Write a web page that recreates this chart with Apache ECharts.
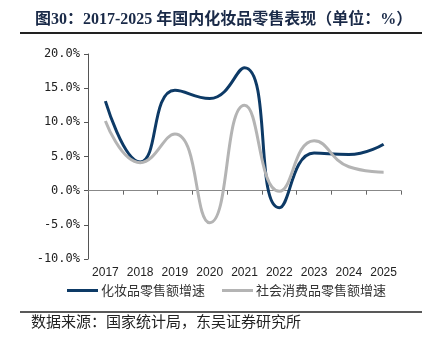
<!DOCTYPE html>
<html><head><meta charset="utf-8">
<script src="https://cdn.jsdelivr.net/npm/echarts@6/dist/echarts.min.js"></script>
<style>html,body{margin:0;padding:0;background:#fff}#c{width:433px;height:340px}</style>
</head><body><div id="c"></div>
<script>
const categories = ['2017','2018','2019','2020','2021','2022','2023','2024','2025'];
const cosmetics = [13.1, 4.2, 14.7, 13.5, 18.0, -2.5, 5.5, 5.3, 6.8];
const retail = [10.2, 4.1, 8.3, -4.7, 12.5, -0.1, 7.3, 3.5, 2.7];
const seriesNames = ['化妆品零售额增速', '社会消费品零售额增速'];
const titleText = '图30：2017-2025 年国内化妆品零售表现（单位：%）';
const sourceText = '数据来源：国家统计局，东吴证券研究所';

const chart = echarts.init(document.getElementById('c'));
chart.setOption({
  animation: false,
  title: {
    text: titleText, left: 30, top: 7,
    textStyle: {fontFamily: '"Liberation Serif","Noto Sans CJK SC",serif', fontWeight: 'bold', fontSize: 16, color: '#1a2a48'}
  },
  graphic: [
    {type: 'line', shape: {x1: 20, y1: 33, x2: 422, y2: 33}, style: {stroke: '#222', lineWidth: 2}},
    {type: 'line', shape: {x1: 20, y1: 312, x2: 422, y2: 312}, style: {stroke: '#222', lineWidth: 1.5}},
    {type: 'text', left: 31, top: 314, style: {text: sourceText, fontSize: 15, fill: '#222', fontFamily: '"Noto Sans CJK SC",sans-serif'}}
  ],
  legend: {
    left: 62, top: 279, itemWidth: 31, itemHeight: 3, itemGap: 17,
    icon: 'rect',
    textStyle: {fontSize: 13, color: '#333', fontFamily: '"Noto Sans CJK SC",sans-serif', padding: [0,0,0,-2]},
    data: seriesNames
  },
  grid: {left: 88, right: 32, top: 54, bottom: 81},
  xAxis: {
    type: 'category', data: categories, boundaryGap: true,
    axisLine: {onZero: true, lineStyle: {color: '#888', width: 1}},
    axisTick: {show: true, length: 4, lineStyle: {color: '#666'}},
    axisLabel: {fontSize: 12, color: '#222', margin: 8, fontFamily: 'Arial, "Liberation Sans", sans-serif'}
  },
  yAxis: {
    type: 'value', min: -10, max: 20, interval: 5,
    splitLine: {show: false},
    axisLine: {show: true, lineStyle: {color: '#555'}},
    axisTick: {show: true, length: 4, lineStyle: {color: '#555'}},
    axisLabel: {fontSize: 12, color: '#222', margin: 8, fontFamily: '"DejaVu Sans Mono", monospace',
      formatter: v => v.toFixed(1) + '%'}
  },
  series: [
    {name: seriesNames[0], type: 'line', data: cosmetics, smooth: 0.5, symbol: 'none',
     lineStyle: {color: '#0d3a66', width: 3}, itemStyle: {color: '#0d3a66'}},
    {name: seriesNames[1], type: 'line', data: retail, smooth: 0.5, symbol: 'none',
     lineStyle: {color: '#b4b4b4', width: 3}, itemStyle: {color: '#b4b4b4'}}
  ]
});
</script></body></html>
